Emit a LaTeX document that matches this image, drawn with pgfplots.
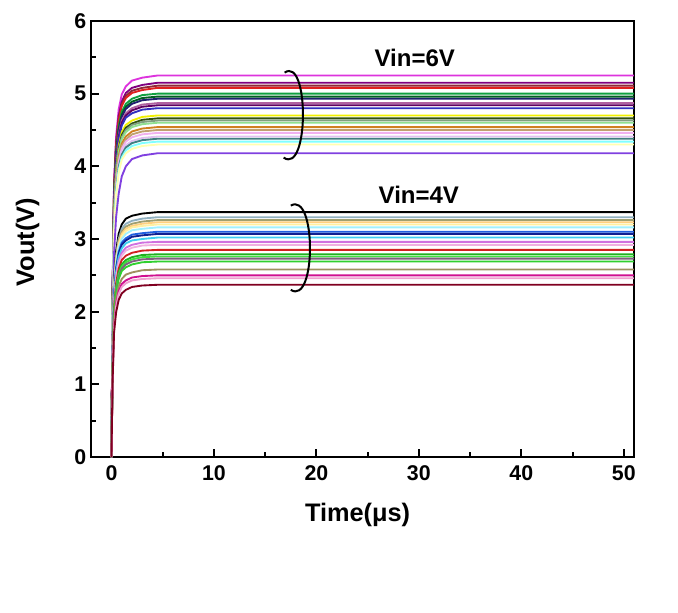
\documentclass[border=0pt]{standalone}
\usepackage{fontspec}
\setmainfont{Liberation Sans}
\usepackage{pgfplots}
\pgfplotsset{compat=1.18}
% 6V group colours (top to bottom)
\definecolor{a1}{HTML}{DD33DD}\definecolor{a2}{HTML}{800080}\definecolor{a3}{HTML}{902838}
\definecolor{a4}{HTML}{E02020}\definecolor{a5}{HTML}{10A040}\definecolor{a6}{HTML}{006020}
\definecolor{a7}{HTML}{202070}\definecolor{a8}{HTML}{B060A0}\definecolor{a9}{HTML}{600060}
\definecolor{a10}{HTML}{3030C0}\definecolor{a11}{HTML}{F0F000}\definecolor{a12}{HTML}{305010}
\definecolor{a13}{HTML}{80A080}\definecolor{a14}{HTML}{90E090}\definecolor{a15}{HTML}{D08020}
\definecolor{a16}{HTML}{C0A070}\definecolor{a17}{HTML}{F0B0F0}\definecolor{a18}{HTML}{E0C0F0}
\definecolor{a19}{HTML}{408080}\definecolor{a20}{HTML}{80FFFF}\definecolor{a21}{HTML}{FFFFB0}
\definecolor{a22}{HTML}{8040E0}
% 4V group colours (top to bottom)
\definecolor{b1}{HTML}{000000}\definecolor{b2}{HTML}{90B0C0}\definecolor{b3}{HTML}{A0A070}
\definecolor{b4}{HTML}{FFD080}\definecolor{b5}{HTML}{FFF0A0}\definecolor{b6}{HTML}{A0F0FF}
\definecolor{b7}{HTML}{2060E0}\definecolor{b8}{HTML}{102090}\definecolor{b9}{HTML}{40D0F0}
\definecolor{b10}{HTML}{D070E0}\definecolor{b11}{HTML}{F0B0E0}\definecolor{b12}{HTML}{D02020}
\definecolor{b13}{HTML}{20B020}\definecolor{b14}{HTML}{40E040}\definecolor{b15}{HTML}{806080}
\definecolor{b16}{HTML}{30D030}\definecolor{b17}{HTML}{A09060}\definecolor{b18}{HTML}{D01090}
\definecolor{b19}{HTML}{F0A0D0}\definecolor{b20}{HTML}{800020}
% one transient: values at t = 0.1,0.25,0.45,0.7,1.0,1.4,2.0,3.0 and final value
\newcommand{\crv}[9]{\addplot coordinates {(0,0)(0.1,#1)(0.25,#2)(0.45,#3)(0.7,#4)(1.0,#5)(1.4,#6)(2.0,#7)(3.0,#8)(4.5,#9)(51,#9)};}
\begin{document}
\begin{tikzpicture}
\useasboundingbox (-68.25pt,-116.25pt) rectangle (440.25pt,342.75pt);
\begin{axis}[
  at={(0,0)}, anchor=south west,
  scale only axis, width=407.25pt, height=327pt,
  xmin=-2, xmax=51, ymin=0, ymax=6,
  xtick={0,10,20,30,40,50}, ytick={0,1,2,3,4,5,6},
  minor x tick num=1, minor y tick num=1,
  tick pos=left, tick align=inside,
  major tick length=6pt, minor tick length=4pt,
  axis line style={line width=1.9pt},
  every tick/.style={line width=1.5pt, black},
  /pgf/number format/assume math mode=true,
  tick label style={font=\fontsize{16}{18}\selectfont\bfseries},
  xticklabel style={yshift=-3pt},
  xlabel={Time(μs)}, ylabel={Vout(V)},
  label style={font=\fontsize{19}{22}\selectfont\bfseries},
  xlabel style={at={(axis description cs:0.491,-0.133)}, anchor=center},
  ylabel style={at={(axis description cs:-0.117,0.493)}, anchor=center},
  every axis plot/.append style={line width=1.4pt, no markers, line join=round},
  cycle list={{a1},{a2},{a3},{a4},{a5},{a6},{a7},{a8},{a9},{a10},{a11},{a12},{a13},{a14},{a15},{a16},{a17},{a18},{a19},{a20},{a21},{a22},
              {b1},{b2},{b3},{b4},{b5},{b6},{b7},{b8},{b9},{b10},{b11},{b12},{b13},{b14},{b15},{b16},{b17},{b18},{b19},{b20}},
]
% Vin = 6V
\crv{2.21}{3.78}{4.41}{4.78}{4.99}{5.10}{5.18}{5.22}{5.25}
\crv{2.16}{3.71}{4.33}{4.69}{4.89}{5.01}{5.08}{5.12}{5.15}
\crv{2.15}{3.68}{4.29}{4.65}{4.85}{4.97}{5.04}{5.08}{5.11}
\crv{2.13}{3.66}{4.27}{4.62}{4.83}{4.94}{5.01}{5.05}{5.08}
\crv{2.10}{3.60}{4.20}{4.55}{4.75}{4.86}{4.93}{4.98}{5.00}
\crv{2.08}{3.57}{4.17}{4.51}{4.71}{4.82}{4.89}{4.94}{4.96}
\crv{2.07}{3.55}{4.14}{4.49}{4.68}{4.79}{4.86}{4.91}{4.93}
\crv{2.05}{3.51}{4.09}{4.43}{4.63}{4.73}{4.80}{4.85}{4.87}
\crv{2.03}{3.48}{4.07}{4.40}{4.60}{4.70}{4.77}{4.82}{4.84}
\crv{2.02}{3.46}{4.03}{4.37}{4.56}{4.67}{4.73}{4.78}{4.80}
\crv{1.97}{3.38}{3.95}{4.28}{4.47}{4.57}{4.63}{4.68}{4.70}
\crv{1.96}{3.36}{3.91}{4.24}{4.43}{4.53}{4.59}{4.64}{4.66}
\crv{1.94}{3.33}{3.89}{4.21}{4.40}{4.50}{4.57}{4.61}{4.63}
\crv{1.93}{3.31}{3.86}{4.19}{4.37}{4.47}{4.54}{4.58}{4.60}
\crv{1.91}{3.27}{3.81}{4.13}{4.31}{4.41}{4.48}{4.52}{4.54}
\crv{1.89}{3.24}{3.78}{4.10}{4.28}{4.37}{4.44}{4.48}{4.50}
\crv{1.87}{3.21}{3.75}{4.06}{4.24}{4.34}{4.40}{4.44}{4.46}
\crv{1.85}{3.18}{3.70}{4.01}{4.19}{4.29}{4.35}{4.39}{4.41}
\crv{1.84}{3.15}{3.68}{3.99}{4.16}{4.26}{4.32}{4.36}{4.38}
\crv{1.82}{3.12}{3.65}{3.95}{4.12}{4.22}{4.28}{4.32}{4.34}
\crv{1.81}{3.10}{3.61}{3.91}{4.09}{4.18}{4.24}{4.28}{4.30}
\crv{1.60}{2.80}{3.30}{3.62}{3.86}{4.00}{4.10}{4.15}{4.18}
% Vin = 4V
\crv{1.42}{2.43}{2.83}{3.07}{3.20}{3.28}{3.32}{3.35}{3.37}
\crv{1.39}{2.38}{2.77}{3.00}{3.14}{3.21}{3.25}{3.28}{3.30}
\crv{1.37}{2.35}{2.74}{2.97}{3.10}{3.17}{3.21}{3.24}{3.26}
\crv{1.36}{2.33}{2.71}{2.94}{3.07}{3.14}{3.18}{3.21}{3.23}
\crv{1.34}{2.30}{2.69}{2.91}{3.04}{3.11}{3.16}{3.18}{3.20}
\crv{1.33}{2.28}{2.65}{2.88}{3.00}{3.07}{3.12}{3.14}{3.16}
\crv{1.30}{2.23}{2.60}{2.82}{2.95}{3.01}{3.06}{3.08}{3.10}
\crv{1.29}{2.21}{2.58}{2.79}{2.92}{2.98}{3.03}{3.05}{3.07}
\crv{1.27}{2.17}{2.54}{2.75}{2.87}{2.94}{2.98}{3.00}{3.02}
\crv{1.24}{2.13}{2.49}{2.69}{2.81}{2.88}{2.92}{2.95}{2.96}
\crv{1.23}{2.10}{2.45}{2.66}{2.77}{2.84}{2.88}{2.91}{2.92}
\crv{1.20}{2.05}{2.39}{2.59}{2.71}{2.77}{2.81}{2.84}{2.85}
\crv{1.17}{2.01}{2.34}{2.54}{2.65}{2.71}{2.75}{2.78}{2.79}
\crv{1.16}{1.99}{2.32}{2.51}{2.62}{2.68}{2.72}{2.75}{2.76}
\crv{1.15}{1.97}{2.29}{2.48}{2.59}{2.65}{2.69}{2.72}{2.73}
\crv{1.13}{1.94}{2.26}{2.45}{2.56}{2.61}{2.65}{2.68}{2.69}
\crv{1.08}{1.86}{2.17}{2.35}{2.45}{2.51}{2.54}{2.57}{2.58}
\crv{1.05}{1.80}{2.10}{2.28}{2.38}{2.43}{2.47}{2.49}{2.50}
\crv{1.03}{1.77}{2.07}{2.24}{2.34}{2.39}{2.43}{2.45}{2.46}
\crv{1.00}{1.71}{1.99}{2.16}{2.25}{2.30}{2.34}{2.36}{2.37}
% brackets and labels
\draw[line width=1.5pt] (axis cs:16.9,5.29) .. controls (axis cs:19.3,5.52) and (axis cs:19.3,3.88) .. (axis cs:16.8,4.12);
\draw[line width=1.5pt] (axis cs:17.5,3.46) .. controls (axis cs:20.0,3.66) and (axis cs:20.0,2.08) .. (axis cs:17.5,2.30);
\node[font=\fontsize{18}{20}\selectfont\bfseries] at (axis cs:29.6,5.49) {Vin=6V};
\node[font=\fontsize{18}{20}\selectfont\bfseries] at (axis cs:30.0,3.61) {Vin=4V};
\end{axis}
\end{tikzpicture}
\end{document}
